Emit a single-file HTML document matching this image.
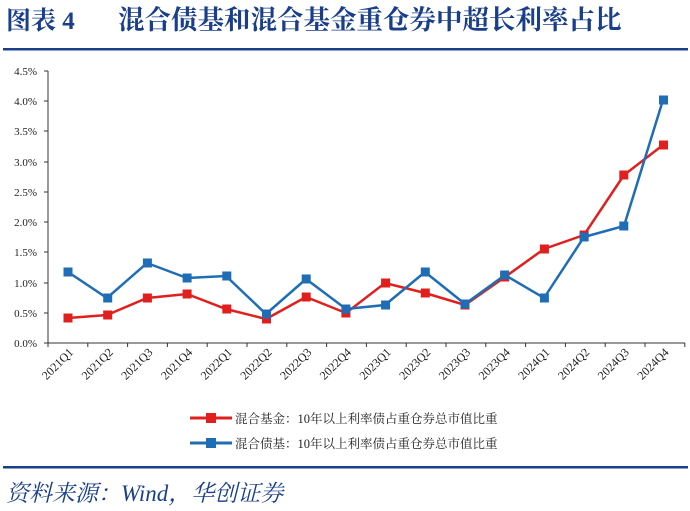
<!DOCTYPE html>
<html><head><meta charset="utf-8"><style>
body{margin:0;background:#fff;width:690px;height:511px;overflow:hidden}
svg{display:block}
</style></head><body>
<svg width="690" height="511" xmlns="http://www.w3.org/2000/svg">
<text x="6" y="29" font-family="'Liberation Serif','Noto Serif CJK SC',serif" font-weight="bold" font-size="25" fill="#1a3f8a">图表 4</text>
<text x="118" y="29" font-family="'Liberation Serif','Noto Serif CJK SC',serif" font-weight="bold" font-size="26.5" fill="#1a3f8a">混合债基和混合基金重仓券中超长利率占比</text>
<rect x="3" y="48" width="685" height="2.5" fill="#1a3f8a"/>
<g font-family="'Liberation Serif',serif" font-size="11" fill="#222" text-anchor="end">
<text x="37" y="75">4.5%</text><text x="37" y="105">4.0%</text><text x="37" y="135">3.5%</text><text x="37" y="166">3.0%</text><text x="37" y="226">2.0%</text><text x="37" y="196">2.5%</text><text x="37" y="256">1.5%</text><text x="37" y="287">1.0%</text><text x="37" y="317">0.5%</text><text x="37" y="347">0.0%</text>
</g>
<g stroke="#333" stroke-width="1">
<line x1="48" y1="71" x2="48" y2="343"/><line x1="48" y1="343" x2="685" y2="343"/>
<line x1="44" y1="71" x2="48" y2="71"/><line x1="44" y1="101" x2="48" y2="101"/><line x1="44" y1="131" x2="48" y2="131"/><line x1="44" y1="162" x2="48" y2="162"/><line x1="44" y1="192" x2="48" y2="192"/><line x1="44" y1="222" x2="48" y2="222"/><line x1="44" y1="252" x2="48" y2="252"/><line x1="44" y1="283" x2="48" y2="283"/><line x1="44" y1="313" x2="48" y2="313"/><line x1="44" y1="343" x2="48" y2="343"/>
</g>
<g id="xt" stroke="#333"></g>
<g id="xl" font-family="'Liberation Serif',serif" font-size="12" fill="#222"></g>
<polyline fill="none" stroke="#e0201e" stroke-width="2.5" points="68,318 107,315 147,298 187,294 226,309 266,319 306,297 346,313 385,283 425,293 465,305 505,277 544,249 584,235 624,175 663,145"/>
<polyline fill="none" stroke="#1f6db5" stroke-width="2.5" points="68,272 107,298 147,263 187,278 226,276 266,314 306,279 346,309 385,305 425,272 465,304 505,275 544,298 584,237 624,226 663,100"/>
<g id="mk"></g>
<line x1="190" y1="418" x2="232" y2="418" stroke="#e0201e" stroke-width="3"/><rect x="206" y="413" width="10" height="10" fill="#e0201e"/>
<line x1="190" y1="443" x2="232" y2="443" stroke="#1f6db5" stroke-width="3"/><rect x="206" y="438" width="10" height="10" fill="#1f6db5"/>
<g font-family="'Liberation Serif','Noto Serif CJK SC',serif" font-size="12.5" fill="#222">
<text x="235" y="423">混合基金：10年以上利率债占重仓券总市值比重</text>
<text x="235" y="448">混合债基：10年以上利率债占重仓券总市值比重</text>
</g>
<rect x="3" y="466" width="685" height="2.5" fill="#1a3f8a"/>
<text x="6" y="501" font-family="'Liberation Serif','Noto Serif CJK SC',serif" font-style="italic" font-size="23" fill="#1a3f8a">资料来源：Wind，华创证券</text>
</svg>
<script>
var ns="http://www.w3.org/2000/svg";
var xt=document.getElementById('xt'),xl=document.getElementById('xl'),mk=document.getElementById('mk');
for(var i=0;i<=16;i++){var x=48+i*39.8;var l=document.createElementNS(ns,'line');l.setAttribute('x1',x);l.setAttribute('x2',x);l.setAttribute('y1',343);l.setAttribute('y2',347);xt.appendChild(l);}
var q=[];for(var y=2021;y<=2024;y++)for(var k=1;k<=4;k++)q.push(y+'Q'+k);
q.forEach(function(s,i){var x=68+i*39.7;var t=document.createElementNS(ns,'text');t.setAttribute('x',x+6);t.setAttribute('y',353);t.setAttribute('text-anchor','end');t.setAttribute('transform','rotate(-45 '+(x+6)+' 353)');t.textContent=s;xl.appendChild(t);});
var r=[318,315,298,294,309,319,297,313,283,293,305,277,249,235,175,145],b=[272,298,263,278,276,314,279,309,305,272,304,275,298,237,226,100];
function sq(x,y,c){var e=document.createElementNS(ns,'rect');e.setAttribute('x',x-4.5);e.setAttribute('y',y-4.5);e.setAttribute('width',9);e.setAttribute('height',9);e.setAttribute('fill',c);mk.appendChild(e);}
r.forEach(function(y,i){sq(68+i*39.7,y,'#e0201e');});
b.forEach(function(y,i){sq(68+i*39.7,y,'#1f6db5');});
</script>
</body></html>
